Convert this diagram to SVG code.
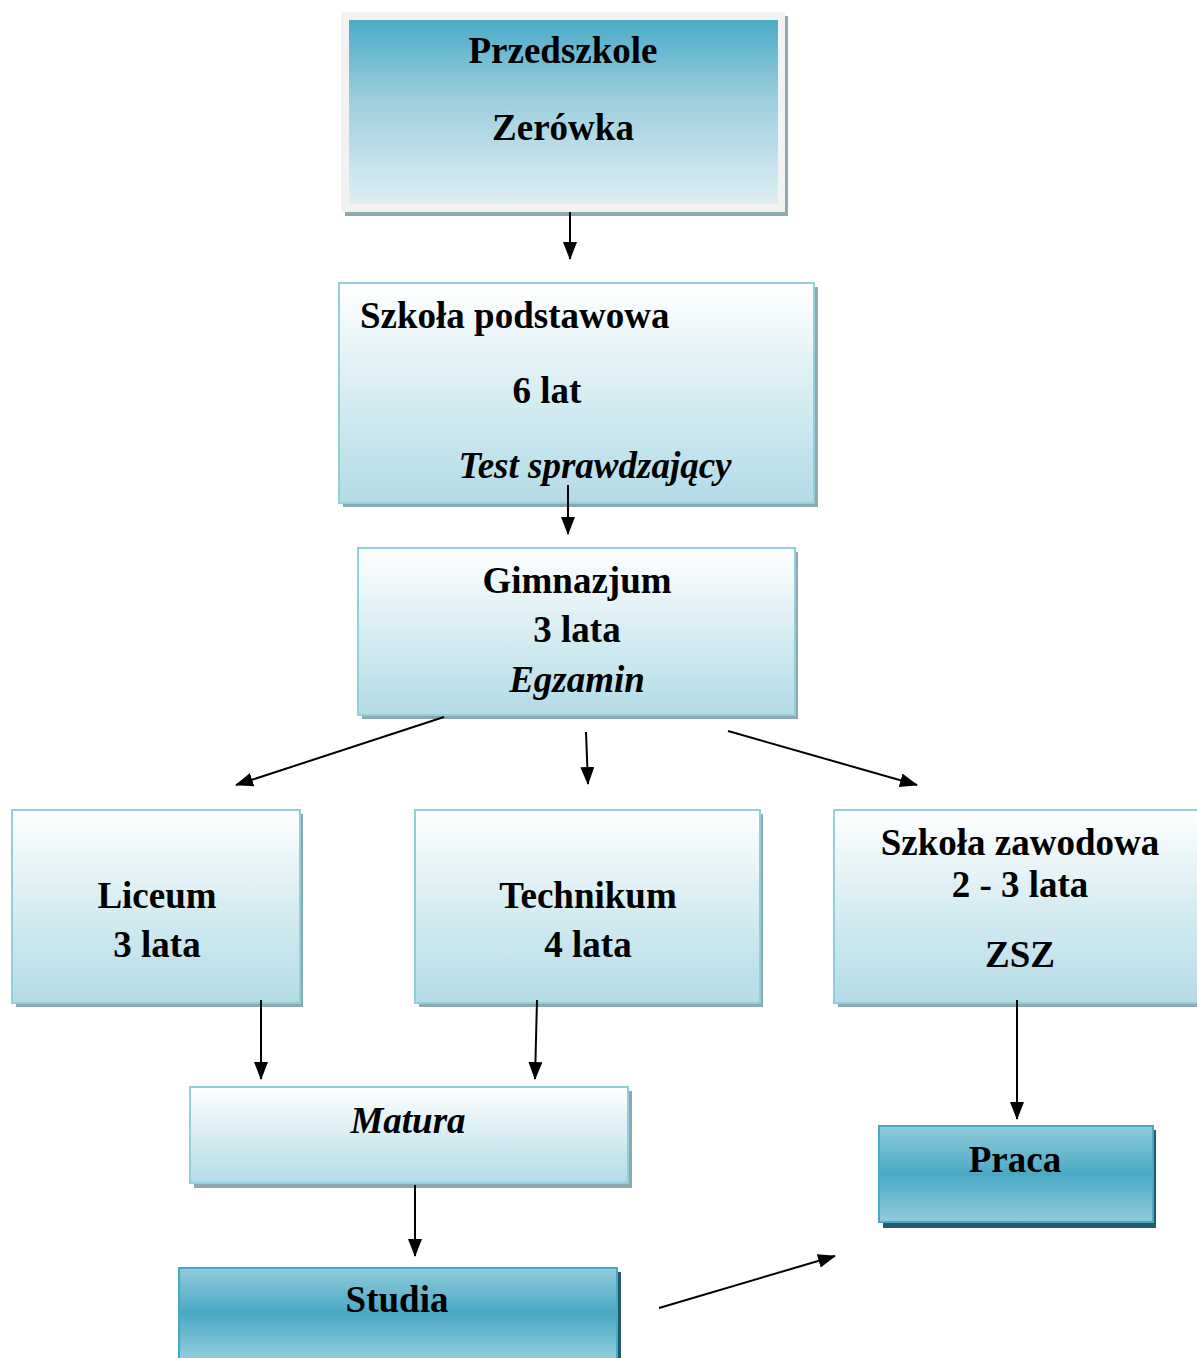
<svg xmlns="http://www.w3.org/2000/svg" width="1197" height="1358" viewBox="0 0 1197 1358">
<defs>
<linearGradient id="gLight" x1="0" y1="0" x2="0" y2="1">
<stop offset="0" stop-color="#ffffff"/>
<stop offset="0.55" stop-color="#d3ebf1"/>
<stop offset="1" stop-color="#b3dbe6"/>
</linearGradient>
<linearGradient id="gTop" x1="0" y1="0" x2="0" y2="1">
<stop offset="0" stop-color="#4babc7"/>
<stop offset="0.45" stop-color="#9fd0de"/>
<stop offset="1" stop-color="#ddeef3"/>
</linearGradient>
<linearGradient id="gDark" x1="0" y1="0" x2="0" y2="1">
<stop offset="0" stop-color="#91cbdc"/>
<stop offset="0.5" stop-color="#4aa9c5"/>
<stop offset="1" stop-color="#91cbdc"/>
</linearGradient>
<linearGradient id="gStudia" x1="0" y1="0" x2="0" y2="1">
<stop offset="0" stop-color="#91cbdc"/>
<stop offset="0.45" stop-color="#4aa9c5"/>
<stop offset="0.9" stop-color="#91cbdc"/>
</linearGradient>
<marker id="arr" viewBox="0 0 18 14" refX="17" refY="7" markerWidth="9" markerHeight="7" orient="auto" markerUnits="strokeWidth">
<path d="M0,0 L18,7 L0,14 z" fill="#000"/>
</marker>
<style>
.lt{fill:url(#gLight);stroke:#91cfdc;stroke-width:2}
.sh{fill:#8ea8af}
.t{font-family:"Liberation Serif","Times New Roman",serif;font-weight:bold;font-size:37px;fill:#000}
.c{text-anchor:middle}
.i{font-style:italic}
.con line{stroke:#000;stroke-width:2;marker-end:url(#arr)}
</style>
</defs>
<rect width="1197" height="1358" fill="#fff"/>

<g id="przedszkole">
<rect x="345" y="16" width="443" height="200" class="sh"/>
<rect x="341" y="12" width="444" height="200" fill="#f2f2f2"/>
<rect x="349" y="20" width="429" height="184" fill="url(#gTop)"/>
<text x="563" y="63" class="t c">Przedszkole</text>
<text x="563" y="140" class="t c">Zerówka</text>
</g>

<g id="podstawowa">
<rect x="343" y="287" width="475" height="220" class="sh"/>
<rect x="339" y="283" width="475" height="220" class="lt"/>
<text x="360" y="328" class="t">Szkoła podstawowa</text>
<text x="547" y="403" class="t c">6 lat</text>
<text x="595" y="478" class="t c i">Test sprawdzający</text>
</g>

<g id="gimnazjum">
<rect x="362" y="552" width="436" height="167" class="sh"/>
<rect x="358" y="548" width="437" height="167" class="lt"/>
<text x="577" y="593" class="t c">Gimnazjum</text>
<text x="577" y="642" class="t c">3 lata</text>
<text x="577" y="692" class="t c i">Egzamin</text>
</g>

<g id="liceum">
<rect x="16" y="814" width="287" height="193" class="sh"/>
<rect x="12" y="810" width="288" height="193" class="lt"/>
<text x="157" y="908" class="t c">Liceum</text>
<text x="157" y="957" class="t c">3 lata</text>
</g>

<g id="technikum">
<rect x="419" y="814" width="344" height="193" class="sh"/>
<rect x="415" y="810" width="345" height="193" class="lt"/>
<text x="588" y="908" class="t c">Technikum</text>
<text x="588" y="957" class="t c">4 lata</text>
</g>

<g id="zawodowa">
<rect x="838" y="814" width="363" height="193" class="sh"/>
<rect x="834" y="810" width="365" height="193" class="lt"/>
<text x="1020" y="855" class="t c">Szkoła zawodowa</text>
<text x="1020" y="897" class="t c">2 - 3 lata</text>
<text x="1020" y="967" class="t c">ZSZ</text>
</g>

<g id="matura">
<rect x="194" y="1091" width="438" height="97" class="sh"/>
<rect x="190" y="1087" width="438" height="96" class="lt"/>
<text x="408" y="1133" class="t c i">Matura</text>
</g>

<g id="praca">
<rect x="883" y="1130" width="273" height="98" fill="#235b6b"/>
<rect x="879" y="1126" width="274" height="96" fill="url(#gDark)" stroke="#4aaac6" stroke-width="2"/>
<text x="1015" y="1172" class="t c">Praca</text>
</g>

<g id="studia">
<rect x="183" y="1272" width="438" height="100" fill="#235b6b"/>
<rect x="179" y="1268" width="438" height="100" fill="url(#gStudia)" stroke="#4aaac6" stroke-width="2"/>
<text x="397" y="1312" class="t c">Studia</text>
</g>

<g id="connectors" class="con">
<line x1="570" y1="212" x2="570" y2="259"/>
<line x1="568" y1="485" x2="568" y2="534"/>
<line x1="444" y1="717" x2="236" y2="785"/>
<line x1="586" y1="732" x2="588" y2="784"/>
<line x1="728" y1="731" x2="917" y2="785"/>
<line x1="261" y1="1000" x2="261" y2="1079"/>
<line x1="537" y1="1000" x2="535" y2="1079"/>
<line x1="415" y1="1185" x2="415" y2="1256"/>
<line x1="659" y1="1308" x2="835" y2="1256"/>
<line x1="1017" y1="1000" x2="1017" y2="1119"/>
</g>
</svg>
